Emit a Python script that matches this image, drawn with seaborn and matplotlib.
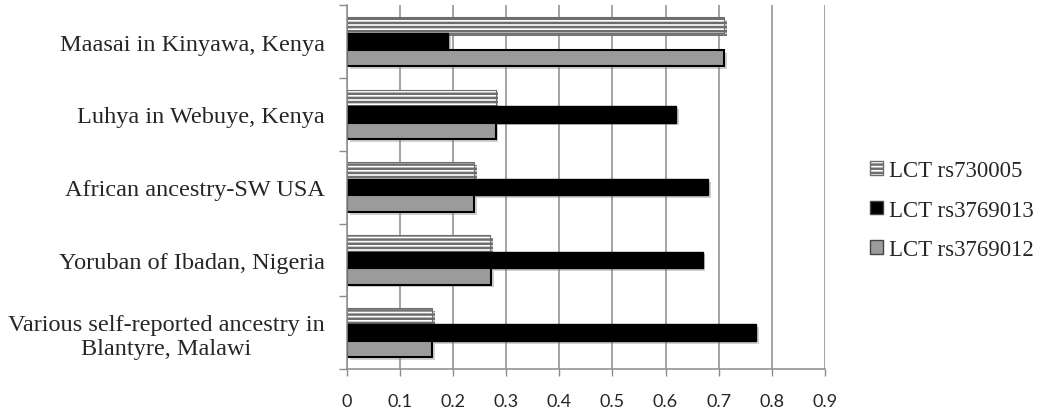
import pandas as pd
import matplotlib
matplotlib.use('Agg')
import matplotlib.pyplot as plt
import matplotlib.patheffects as pe
from matplotlib.patches import Patch
from matplotlib.ticker import FixedLocator
import seaborn as sns

# Poblaciones (de arriba a abajo) y frecuencias por SNP
poblaciones = ['Maasai in Kinyawa, Kenya',
               'Luhya in Webuye, Kenya',
               'African ancestry-SW USA',
               'Yoruban of Ibadan, Nigeria',
               'Various self-reported ancestry in\nBlantyre, Malawi']
series = ['LCT rs730005', 'LCT rs3769013', 'LCT rs3769012']
rs730005 = [0.71, 0.28, 0.24, 0.27, 0.16]
rs3769013 = [0.19, 0.62, 0.68, 0.67, 0.77]
rs3769012 = [0.71, 0.28, 0.24, 0.272, 0.16]
x_ticks = [0, 0.1, 0.2, 0.3, 0.4, 0.5, 0.6, 0.7, 0.8, 0.9]

df = pd.DataFrame({
    'poblacion': poblaciones * 3,
    'snp': [s for s in series for _ in poblaciones],
    'frecuencia': rs730005 + rs3769013 + rs3769012,
})

sns.set_style('white')
plt.rcParams['font.family'] = ['Liberation Serif', 'DejaVu Serif']
plt.rcParams['hatch.linewidth'] = 1.8

fig = plt.figure(figsize=(10.5, 4.14), dpi=100)
ax = fig.add_axes([0.3305, 0.106, 0.455, 0.879])

sns.barplot(data=df, y='poblacion', x='frecuencia', hue='snp',
            order=poblaciones, hue_order=series, orient='h',
            width=0.68, gap=0, ax=ax, legend=False)

sombra = [pe.SimplePatchShadow(offset=(2, -2), alpha=0.35, shadow_rgbFace='#777777'), pe.Normal()]
estilos = [
    dict(facecolor='white', edgecolor='#6e6e6e', hatch='----', linewidth=0.8),
    dict(facecolor='black', edgecolor='black', hatch=None, linewidth=1.0),
    dict(facecolor='#9b9b9b', edgecolor='black', hatch=None, linewidth=1.5),
]
for cont, est in zip(ax.containers, estilos):
    for barra in cont:
        barra.set_facecolor(est['facecolor'])
        barra.set_edgecolor(est['edgecolor'])
        barra.set_linewidth(est['linewidth'])
        if est['hatch']:
            barra.set_hatch(est['hatch'])
        barra.set_path_effects(sombra)

ax.set_xlim(0, 0.9)
ax.set_ylim(4.5, -0.5)
ax.set_xticks(x_ticks)
ax.set_xticklabels([f'{t:g}' for t in x_ticks], family=['Lato', 'DejaVu Sans'], fontsize=13)
ax.xaxis.grid(True, color='#8c8c8c', linewidth=1.1)
ax.set_axisbelow(True)
ax.set_xlabel('')
ax.set_ylabel('')

ax.set_yticks(range(len(poblaciones)))
ax.set_yticklabels(poblaciones, fontsize=17.5, multialignment='center')
ax.yaxis.set_minor_locator(FixedLocator([i - 0.5 for i in range(len(poblaciones) + 1)]))
ax.tick_params(axis='y', which='major', length=0, pad=16)
ax.tick_params(axis='y', which='minor', length=6, width=1, color='#8c8c8c', direction='out', left=True)
ax.tick_params(axis='x', length=5, width=1, color='#8c8c8c', direction='out', bottom=True, pad=12)

for lado in ['top', 'right']:
    ax.spines[lado].set_visible(False)
for lado in ['left', 'bottom']:
    ax.spines[lado].set_color('#8c8c8c')
    ax.spines[lado].set_linewidth(1.1)

handles = [Patch(facecolor=e['facecolor'], edgecolor=e['edgecolor'] if e['hatch'] else '#444444',
                 hatch=e['hatch'], linewidth=1.0) for e in estilos]
fig.legend(handles, series, loc='center left', bbox_to_anchor=(0.829, 0.49),
           frameon=False, fontsize=16.5, handlelength=0.55, handleheight=0.55,
           handletextpad=0.25, labelspacing=0.8, borderpad=0, borderaxespad=0)

fig.savefig('out.png', dpi=100)
